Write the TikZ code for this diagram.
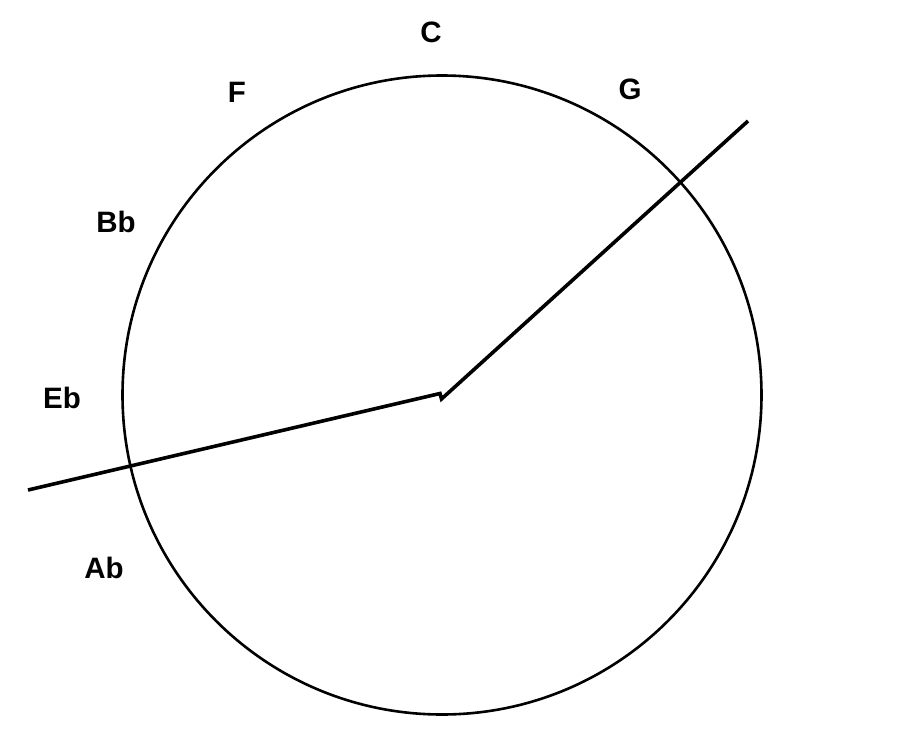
\documentclass[tikz,border=0pt]{standalone}
\usepackage{fontspec}
\setmainfont{Liberation Sans}
\begin{document}
\begin{tikzpicture}[x=1pt,y=-1pt,
  lbl/.style={font=\fontsize{29.5}{31}\selectfont\bfseries, inner sep=0pt, anchor=center},
  hand/.style={line width=3.6pt, line join=miter}]
\useasboundingbox (0,0) rectangle (900,736);
\node[draw, circle, line width=2.6pt, minimum size=639pt, inner sep=0pt] (dial) at (442,395) {};
\coordinate (gend) at (748,121);
\coordinate (lend) at (28,490);
\draw[hand] (lend) -- (440,393.5) -- (441.5,399) -- (gend);
\node[lbl] (c) at (431,32) {C};
\node[lbl] (g) at (630,89) {G};
\node[lbl] (f) at (237,92) {F};
\node[lbl] (bb) at (116,222) {Bb};
\node[lbl] (eb) at (62,398) {Eb};
\node[lbl] (ab) at (104,568) {Ab};
\end{tikzpicture}
\end{document}
